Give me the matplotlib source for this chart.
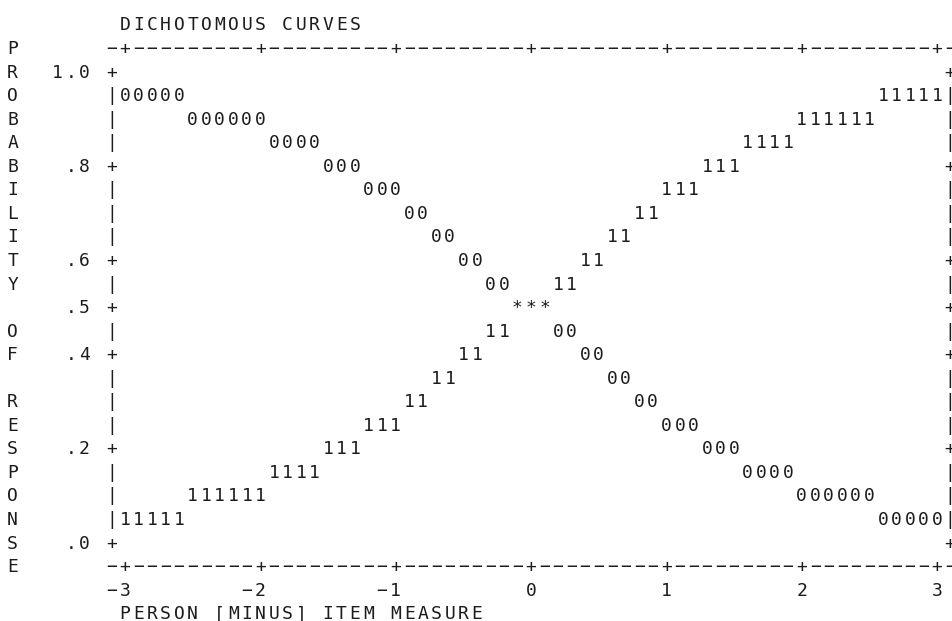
import matplotlib
matplotlib.use("Agg")
import matplotlib.pyplot as plt

TITLE = "DICHOTOMOUS CURVES"
Y_TITLE = "PROBABILITY OF RESPONSE"
X_TITLE = "PERSON [MINUS] ITEM MEASURE"

Y_TICKS = [1.0, 0.8, 0.6, 0.5, 0.4, 0.2, 0.0]
Y_TICK_LABELS = ["1.0", ".8", ".6", ".5", ".4", ".2", ".0"]
X_TICKS = [-3, -2, -1, 0, 1, 2, 3]
X_TICK_LABELS = ["\u22123", "\u22122", "\u22121", "0", "1", "2", "3"]

# response "0": probability row, first and last measure of each run of 0s
ZERO_P = [0.95, 0.90, 0.85, 0.80, 0.75, 0.70, 0.65, 0.60, 0.55,
          0.45, 0.40, 0.35, 0.30, 0.25, 0.20, 0.15, 0.10, 0.05]
ZERO_FROM = [-3.0, -2.5, -1.9, -1.5, -1.2, -0.9, -0.7, -0.5, -0.3,
             0.2, 0.4, 0.6, 0.8, 1.0, 1.3, 1.6, 2.0, 2.6]
ZERO_TO = [-2.6, -2.0, -1.6, -1.3, -1.0, -0.8, -0.6, -0.4, -0.2,
           0.3, 0.5, 0.7, 0.9, 1.2, 1.5, 1.9, 2.5, 3.0]

# response "1"
ONE_P = [0.95, 0.90, 0.85, 0.80, 0.75, 0.70, 0.65, 0.60, 0.55,
         0.45, 0.40, 0.35, 0.30, 0.25, 0.20, 0.15, 0.10, 0.05]
ONE_FROM = [2.6, 2.0, 1.6, 1.3, 1.0, 0.8, 0.6, 0.4, 0.2,
            -0.3, -0.5, -0.7, -0.9, -1.2, -1.5, -1.9, -2.5, -3.0]
ONE_TO = [3.0, 2.5, 1.9, 1.5, 1.2, 0.9, 0.7, 0.5, 0.3,
          -0.2, -0.4, -0.6, -0.8, -1.0, -1.3, -1.6, -2.0, -2.6]

# where both curves print on the same cell
BOTH_P = [0.50]
BOTH_FROM = [-0.1]
BOTH_TO = [0.1]

STEP_X = 0.1   # one character column
STEP_P = 0.05  # one character row
BASE = 0.014   # baseline below row centre

fig = plt.figure(figsize=(9.52, 6.21), dpi=100, facecolor="white")
ax = fig.add_axes([125 / 952, 79 / 621, 812 / 952, 471 / 621])
ax.set_xlim(-3, 3)
ax.set_ylim(0, 1)
ax.axis("off")

TXT = dict(family="DejaVu Sans Mono", fontsize=13, color="#1c1c1c",
           ha="center", va="baseline")


def put(x, p, s):
    # one character per column, like the printed plot
    for i, ch in enumerate(s):
        if ch != " ":
            ax.text(x + i * STEP_X, p - BASE, ch, **TXT)


def run(ps, x0s, x1s, sym):
    for p, x0, x1 in zip(ps, x0s, x1s):
        n = int(round((x1 - x0) / STEP_X)) + 1
        put(x0, p, sym * n)


# frame
n_cols = int(round(6.2 / STEP_X)) + 1
for i in range(n_cols):
    x = -3.1 + i * STEP_X
    ch = "+" if any(abs(x - t) < 1e-6 for t in X_TICKS) else "\u2212"
    put(x, 1.0 + STEP_P, ch)
    put(x, 0.0 - STEP_P, ch)

for k in range(21):
    p = 1.0 - k * STEP_P
    ch = "+" if any(abs(p - t) < 1e-6 for t in Y_TICKS) else "|"
    put(-3.1, p, ch)
    put(3.095, p, ch)

# tick labels
for t, lab in zip(Y_TICKS, Y_TICK_LABELS):
    put(-3.3 - (len(lab) - 1) * STEP_X, t, lab)
for t, lab in zip(X_TICKS, X_TICK_LABELS):
    put(t - (len(lab) - 1) * STEP_X, -2 * STEP_P, lab)

# titles
put(-3.0, 1.0 + 2 * STEP_P, TITLE)
put(-3.0, -3 * STEP_P, X_TITLE)
for i, ch in enumerate(Y_TITLE):
    if ch != " ":
        put(-3.83, 1.0 + STEP_P - i * STEP_P, ch)

# curves
run(ZERO_P, ZERO_FROM, ZERO_TO, "0")
run(ONE_P, ONE_FROM, ONE_TO, "1")
run(BOTH_P, BOTH_FROM, BOTH_TO, "*")

fig.savefig("out.png", dpi=100)
